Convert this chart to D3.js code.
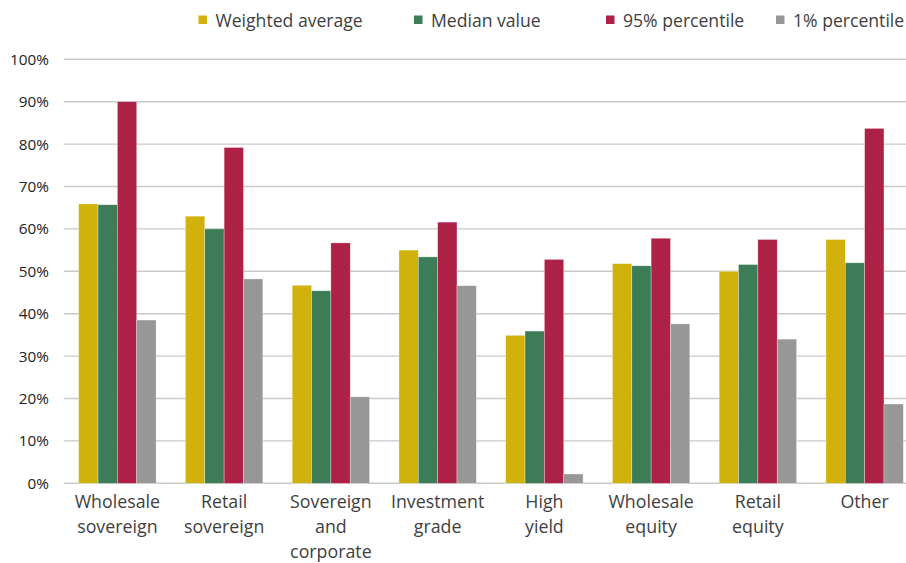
<!DOCTYPE html>
<html><head><meta charset="utf-8">
<script src="https://cdn.jsdelivr.net/npm/d3@7"></script>
<style>
html,body{margin:0;padding:0;background:#fff;}
svg{display:block;}
text{font-family:"Open Sans","Noto Sans",sans-serif;}
</style></head>
<body>
<svg id="chart" width="906" height="563"></svg>
<script>
const categories = [["Wholesale","sovereign"],["Retail","sovereign"],["Sovereign","and","corporate"],["Investment","grade"],["High","yield"],["Wholesale","equity"],["Retail","equity"],["Other"]];
const seriesNames = ["Weighted average","Median value","95% percentile","1% percentile"];
const seriesColors = ["#D1B20C","#3C7D58","#AE2146","#979797"];
const weightedAverage = [65.9, 63.0, 46.7, 55.0, 34.9, 51.8, 50.0, 57.5];
const medianValue     = [65.7, 60.0, 45.4, 53.4, 35.9, 51.3, 51.6, 52.0];
const pct95           = [90.0, 79.2, 56.7, 61.6, 52.8, 57.8, 57.5, 83.7];
const pct1            = [38.5, 48.2, 20.4, 46.6, 2.2, 37.6, 34.0, 18.7];
const yTicks = [0,10,20,30,40,50,60,70,80,90,100];

(function () {
const seriesValues = [weightedAverage, medianValue, pct95, pct1];
const svg = d3.select("#chart");
const pLeft = 64, pRight = 918, pTop = 59.3, pBottom = 483.3;

const x = d3.scaleBand().domain(d3.range(categories.length)).range([pLeft, pRight]).paddingInner(0.275).paddingOuter(0.1375);
const xs = d3.scaleBand().domain(d3.range(seriesNames.length)).range([0, x.bandwidth()]);
const y = d3.scaleLinear().domain([0, 100]).range([pBottom, pTop]);

// gridlines
svg.append("g").selectAll("line").data(yTicks).join("line")
  .attr("x1", pLeft).attr("x2", 906)
  .attr("y1", d => y(d)).attr("y2", d => y(d))
  .attr("stroke", "#c9c9c9").attr("stroke-width", 1.4);

// y axis labels
const yAxis = d3.axisLeft(y).tickValues(yTicks).tickFormat(d => d + "%").tickSize(0).tickPadding(15);
const ya = svg.append("g").attr("transform", `translate(${pLeft},0)`).call(yAxis);
ya.select(".domain").remove();
ya.selectAll("text").attr("font-size", 15.3).attr("fill", "#222").attr("font-family", "'Open Sans','Noto Sans',sans-serif");

// bars
const groups = svg.append("g").selectAll("g").data(categories).join("g")
  .attr("transform", (d, i) => `translate(${x(i)},0)`);
groups.selectAll("rect").data((d, i) => seriesValues.map((s, j) => ({v: s[i], j})))
  .join("rect")
  .attr("x", d => xs(d.j)).attr("width", xs.bandwidth())
  .attr("y", d => y(d.v)).attr("height", d => pBottom - y(d.v))
  .attr("fill", d => seriesColors[d.j])
  .attr("stroke", "#ffffff").attr("stroke-opacity", 0.5).attr("stroke-width", 0.6);

// x axis labels
const xa = svg.append("g");
categories.forEach((lines, i) => {
  const cx = x(i) + x.bandwidth() / 2;
  const t = xa.append("text").attr("x", cx).attr("y", 507.5)
    .attr("text-anchor", "middle").attr("font-size", 17.8).attr("fill", "#404040");
  lines.forEach((l, k) => t.append("tspan").attr("x", cx).attr("dy", k === 0 ? 0 : 25).text(l));
});

// legend
const legendX = [198.5, 414, 606, 776];
const lg = svg.append("g");
seriesNames.forEach((n, i) => {
  lg.append("rect").attr("x", legendX[i]).attr("y", 15.5).attr("width", 8.5).attr("height", 8.5).attr("fill", seriesColors[i]);
  lg.append("text").attr("x", legendX[i] + 17).attr("y", 26.5).attr("font-size", 17.6).attr("fill", "#404040").text(n);
});
})();
</script>
</body></html>
